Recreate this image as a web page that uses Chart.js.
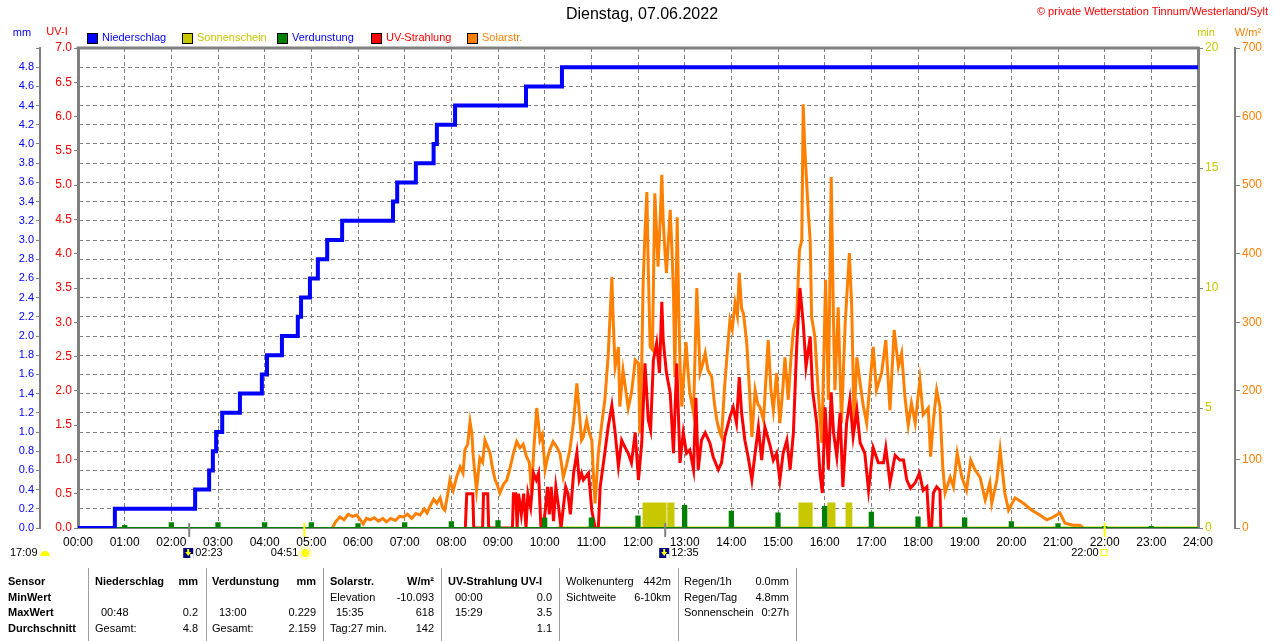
<!DOCTYPE html>
<html>
<head>
<meta charset="utf-8">
<title>Wetterstation Tinnum 07.06.2022</title>
<script src="https://cdn.jsdelivr.net/npm/chart.js@4.4.1/dist/chart.umd.min.js"></script>
<style>
  html, body { margin: 0; padding: 0; background: #fff; }
  #wrap { width: 1280px; height: 641px; position: relative; }
</style>
</head>
<body>
<div id="wrap"><canvas id="chart"></canvas></div>
<script>
// Niederschlag (cumulative mm, value changes at given hour)
const rainT  = [0, 0.79, 2.51, 2.81, 2.89, 2.96, 3.09, 3.47, 3.94, 4.05, 4.37, 4.71, 4.78, 4.97, 5.14, 5.34, 5.66, 6.75, 6.84, 7.24, 7.62, 7.69, 8.08, 9.60, 10.37, 24];
const rainMm = [0, 0.2, 0.4, 0.6, 0.8, 1.0, 1.2, 1.4, 1.6, 1.8, 2.0, 2.2, 2.4, 2.6, 2.8, 3.0, 3.2, 3.4, 3.6, 3.8, 4.0, 4.2, 4.4, 4.6, 4.8, 4.8];

// Sonnenschein (min)
const sunT   = [10.26, 12.13, 12.26, 12.30, 12.58, 12.66, 12.75, 15.47, 15.71, 16.09, 16.20, 16.48, 16.56, 24];
const sunMin = [0, 1, 0, 1, 0, 1, 0, 1, 0, 1, 0, 1, 0, 0];

// Verdunstung (mm per hour)
const evapH  = [1, 2, 3, 4, 5, 6, 7, 8, 9, 10, 11, 12, 13, 14, 15, 16, 17, 18, 19, 20, 21, 22, 23];
const evapMm = [0.02, 0.05, 0.05, 0.05, 0.05, 0.04, 0.05, 0.06, 0.07, 0.10, 0.10, 0.12, 0.229, 0.17, 0.15, 0.22, 0.16, 0.11, 0.10, 0.06, 0.04, 0.01, 0.01];

// UV-Strahlung (UV-I)
const uvT = [8.30, 8.33, 8.46, 8.48, 8.67, 8.69, 8.78, 8.80, 9.31, 9.33, 9.38, 9.41, 9.44, 9.50, 9.55, 9.60, 9.64, 9.70, 9.76, 9.82,
  9.87, 9.92, 9.97, 10.02, 10.06, 10.10, 10.14, 10.19, 10.24, 10.30, 10.35, 10.40, 10.45, 10.50, 10.55, 10.62, 10.69, 10.74, 10.79, 10.83,
  10.94, 11.01, 11.08, 11.15, 11.19, 11.29, 11.36, 11.44, 11.51, 11.58, 11.65, 11.72, 11.79, 11.86, 11.94, 12.01, 12.08, 12.15, 12.22, 12.27,
  12.33, 12.40, 12.46, 12.51, 12.54, 12.61, 12.69, 12.76, 12.83, 12.90, 12.97, 13.04, 13.11, 13.19, 13.24, 13.29, 13.36, 13.44, 13.54, 13.61,
  13.72, 13.79, 13.86, 13.97, 14.04, 14.11, 14.17, 14.22, 14.29, 14.36, 14.44, 14.51, 14.58, 14.65, 14.72, 14.83, 14.90, 14.97, 15.04, 15.11,
  15.19, 15.26, 15.33, 15.40, 15.47, 15.54, 15.60, 15.69, 15.74, 15.83, 15.90, 15.95, 16.01, 16.08, 16.14, 16.19, 16.26, 16.33, 16.39, 16.47,
  16.54, 16.61, 16.69, 16.76, 16.86, 16.94, 17.04, 17.15, 17.26, 17.31, 17.40, 17.51, 17.61, 17.69, 17.76, 17.84, 17.94, 18.03, 18.11, 18.19,
  18.24, 18.29, 18.33, 18.40, 18.47, 18.49];
const uvI = [0, 0.5, 0.5, 0, 0, 0.5, 0.5, 0, 0, 0.5, 0.5, 0, 0.5, 0.2, 0.5, 0, 0.5, 0.3, 0.8, 0.7,
  0.8, 0, 0, 0.3, 0.6, 0.2, 0.6, 0.1, 0.6, 0.3, 0, 0.3, 0.6, 0.5, 0.2, 0.8, 1.1, 0.7, 0.8, 0.7,
  0.8, 0.26, 0, 0, 0.6, 1.1, 1.47, 1.79, 1.39, 0.9, 1.28, 1.18, 1.09, 0.95, 1.39, 0.7, 1.24, 2.4, 1.58, 1.43,
  2.45, 2.7, 2.26, 3.3, 2.74, 2.26, 1.97, 1.09, 2.4, 0.95, 1.39, 1.09, 1.14, 0.85, 1.9, 0.85, 1.28, 1.39, 1.24, 1.04,
  0.85, 0.95, 1.33, 1.62, 1.76, 1.53, 2.2, 1.68, 1.28, 1.04, 0.7, 1.09, 1.47, 0.99, 1.47, 1.2, 0.99, 1.09, 0.7, 1.09,
  1.28, 0.85, 1.39, 2.64, 3.5, 2.99, 2.35, 2.79, 2.01, 1.53, 0.8, 0.51, 1.76, 0.85, 1.98, 1.39, 1.04, 1.68, 0.6, 1.53,
  1.87, 1.33, 1.72, 1.24, 1.09, 0.55, 1.17, 0.95, 0.95, 1.17, 0.66, 1.06, 0.99, 0.99, 0.7, 0.58, 0.66, 0.8, 0.55, 0.6,
  0, 0, 0.51, 0.6, 0.55, 0];

// Solarstrahlung (W/m2)
const solT = [5.45, 5.52, 5.61, 5.70, 5.79, 5.88, 5.97, 6.04, 6.11, 6.18, 6.26, 6.35, 6.44, 6.53, 6.61, 6.70, 6.80, 6.89, 6.97, 7.06,
  7.15, 7.24, 7.33, 7.42, 7.48, 7.54, 7.62, 7.69, 7.76, 7.81, 7.86, 7.92, 7.97, 8.04, 8.12, 8.19, 8.25, 8.29, 8.35, 8.40,
  8.44, 8.47, 8.51, 8.54, 8.58, 8.61, 8.67, 8.72, 8.78, 8.83, 8.88, 8.94, 8.99, 9.04, 9.12, 9.19, 9.26, 9.33, 9.40, 9.47,
  9.54, 9.61, 9.67, 9.72, 9.77, 9.83, 9.87, 9.90, 9.95, 10.01, 10.06, 10.11, 10.18, 10.26, 10.33, 10.40, 10.47, 10.54, 10.62, 10.69,
  10.74, 10.79, 10.83, 10.90, 10.95, 11.01, 11.05, 11.08, 11.15, 11.22, 11.29, 11.36, 11.44, 11.47, 11.51, 11.55, 11.58, 11.61, 11.68, 11.74,
  11.79, 11.86, 11.90, 11.94, 12.01, 12.04, 12.08, 12.11, 12.15, 12.19, 12.22, 12.26, 12.31, 12.36, 12.43, 12.47, 12.51, 12.54, 12.58, 12.61,
  12.69, 12.73, 12.76, 12.79, 12.84, 12.87, 12.90, 12.94, 12.99, 13.03, 13.07, 13.11, 13.19, 13.26, 13.33, 13.39, 13.44, 13.50, 13.58, 13.64,
  13.69, 13.75, 13.79, 13.85, 13.90, 13.97, 14.02, 14.08, 14.13, 14.17, 14.22, 14.26, 14.33, 14.39, 14.44, 14.51, 14.57, 14.61, 14.69, 14.79,
  14.85, 14.90, 14.97, 15.04, 15.10, 15.15, 15.22, 15.28, 15.33, 15.40, 15.46, 15.51, 15.54, 15.57, 15.60, 15.65, 15.69, 15.72, 15.79, 15.86,
  15.94, 16.02, 16.08, 16.14, 16.19, 16.22, 16.29, 16.36, 16.44, 16.53, 16.58, 16.63, 16.69, 16.76, 16.83, 16.90, 16.97, 17.04, 17.11, 17.22,
  17.31, 17.40, 17.49, 17.58, 17.65, 17.72, 17.79, 17.86, 17.94, 18.04, 18.11, 18.22, 18.27, 18.33, 18.40, 18.47, 18.53, 18.58, 18.69, 18.76,
  18.84, 18.94, 19.04, 19.13, 19.22, 19.33, 19.44, 19.54, 19.58, 19.69, 19.76, 19.86, 19.94, 20.08, 20.26, 20.44, 20.61, 20.76, 20.90, 21.04,
  21.15, 21.33, 21.47, 21.54];
const solW = [0, 9, 16, 12, 20, 17, 19, 13, 6, 14, 12, 15, 10, 14, 9, 14, 11, 17, 16, 20,
  14, 21, 19, 28, 22, 31, 42, 36, 44, 30, 26, 48, 70, 55, 76, 89, 80, 114, 122, 155,
  138, 104, 75, 55, 82, 102, 96, 128, 118, 109, 88, 70, 62, 51, 64, 70, 88, 109, 126, 117,
  122, 104, 96, 51, 118, 175, 150, 128, 136, 85, 102, 114, 126, 118, 108, 74, 92, 114, 155, 211,
  170, 128, 133, 157, 140, 128, 70, 36, 109, 150, 187, 250, 366, 300, 235, 250, 264, 177, 230, 200,
  175, 197, 220, 245, 240, 138, 240, 357, 430, 490, 380, 264, 260, 488, 381, 440, 515, 449, 400, 372,
  464, 400, 343, 220, 453, 330, 240, 177, 230, 271, 230, 197, 168, 350, 226, 240, 255, 230, 220, 180,
  157, 140, 133, 200, 245, 303, 290, 328, 310, 372, 320, 313, 270, 200, 133, 201, 180, 177, 157, 274,
  200, 172, 226, 153, 200, 249, 187, 250, 289, 308, 405, 420, 618, 560, 522, 459, 420, 308, 279, 201,
  124, 362, 187, 512, 299, 201, 322, 153, 299, 401, 322, 153, 249, 211, 177, 153, 211, 264, 201, 226,
  274, 172, 289, 235, 255, 191, 150, 182, 153, 216, 165, 175, 104, 157, 201, 177, 90, 51, 74, 60,
  109, 74, 55, 99, 85, 74, 41, 66, 36, 70, 114, 51, 26, 44, 36, 26, 19, 12, 16, 22,
  7, 4, 4, 0];

// Sonnenauf-/untergang, Mond
const eventT     = [2.383, 4.85, 12.583, 22.0];
const eventLabel = ['02:23', '04:51', '12:35', '22:00'];
const eventKind  = ['moon', 'sun', 'moon', 'sun'];

const C_BLUE = '#0000ff', C_YEL = '#c8c800', C_GREEN = '#008000', C_RED = '#ff0000', C_ORA = '#ff8000', C_GRID = '#808080';
const FONT = "'Liberation Sans', Arial, sans-serif";

const pts = (xs, ys) => xs.map((x, i) => ({ x: x, y: ys[i] }));

// evaporation as narrow blocks on a baseline
const evapPts = [{ x: 0, y: 0 }];
evapH.forEach((h, i) => {
  evapPts.push({ x: h - 0.035, y: 0 }, { x: h - 0.035, y: evapMm[i] }, { x: h + 0.035, y: evapMm[i] }, { x: h + 0.035, y: 0 });
});
evapPts.push({ x: 24, y: 0 });

function pad2(n) { return (n < 10 ? '0' : '') + n; }

const legendItems = [
  { text: 'Niederschlag', box: C_BLUE,  color: C_BLUE, x: 87 },
  { text: 'Sonnenschein', box: C_YEL,   color: C_YEL,  x: 182 },
  { text: 'Verdunstung',  box: C_GREEN, color: C_BLUE, x: 277 },
  { text: 'UV-Strahlung', box: C_RED,   color: C_RED,  x: 371 },
  { text: 'Solarstr.',    box: C_ORA,   color: C_ORA,  x: 467 }
];

// summary table below the chart
const tableRows = [582, 598, 613, 629];
const tableSep = [88, 206, 323, 441, 559, 678, 796];
const tableCells = [
  ['Sensor', 8, 0, 'left', true], ['MinWert', 8, 1, 'left', true], ['MaxWert', 8, 2, 'left', true], ['Durchschnitt', 8, 3, 'left', true],
  ['Niederschlag', 95, 0, 'left', true], ['mm', 198, 0, 'right', true],
  ['00:48', 101, 2, 'left', false], ['0.2', 198, 2, 'right', false],
  ['Gesamt:', 95, 3, 'left', false], ['4.8', 198, 3, 'right', false],
  ['Verdunstung', 212, 0, 'left', true], ['mm', 316, 0, 'right', true],
  ['13:00', 219, 2, 'left', false], ['0.229', 316, 2, 'right', false],
  ['Gesamt:', 212, 3, 'left', false], ['2.159', 316, 3, 'right', false],
  ['Solarstr.', 330, 0, 'left', true], ['W/m\u00b2', 434, 0, 'right', true],
  ['Elevation', 330, 1, 'left', false], ['-10.093', 434, 1, 'right', false],
  ['15:35', 336, 2, 'left', false], ['618', 434, 2, 'right', false],
  ['Tag:27 min.', 330, 3, 'left', false], ['142', 434, 3, 'right', false],
  ['UV-Strahlung UV-I', 448, 0, 'left', true],
  ['00:00', 455, 1, 'left', false], ['0.0', 552, 1, 'right', false],
  ['15:29', 455, 2, 'left', false], ['3.5', 552, 2, 'right', false],
  ['1.1', 552, 3, 'right', false],
  ['Wolkenunterg', 566, 0, 'left', false], ['442m', 671, 0, 'right', false],
  ['Sichtweite', 566, 1, 'left', false], ['6-10km', 671, 1, 'right', false],
  ['Regen/1h', 684, 0, 'left', false], ['0.0mm', 789, 0, 'right', false],
  ['Regen/Tag', 684, 1, 'left', false], ['4.8mm', 789, 1, 'right', false],
  ['Sonnenschein', 684, 2, 'left', false], ['0:27h', 789, 2, 'right', false]
];

function txt(ctx, s, x, y, color, align, bold, size) {
  ctx.save();
  ctx.font = (bold ? 'bold ' : '') + (size || 11) + 'px ' + FONT;
  ctx.fillStyle = color;
  ctx.textAlign = align || 'left';
  ctx.textBaseline = 'middle';
  ctx.fillText(s, x, y);
  ctx.restore();
}

const decorPlugin = {
  id: 'decor',
  beforeDatasetsDraw(chart) {
    const ctx = chart.ctx, a = chart.chartArea;
    ctx.save();
    ctx.strokeStyle = C_GRID;
    ctx.lineWidth = 3;
    ctx.beginPath();
    ctx.moveTo(a.left - 1.5, a.top);
    ctx.lineTo(a.right + 1.5, a.top);
    ctx.stroke();
    ctx.restore();
  },
  afterDraw(chart) {
    const ctx = chart.ctx, xs = chart.scales.x;

    txt(ctx, 'Dienstag, 07.06.2022', 642, 15, '#000', 'center', false, 16);
    txt(ctx, '\u00a9 private Wetterstation Tinnum/Westerland/Sylt', 1268, 12, C_RED, 'right', false, 11);

    txt(ctx, 'mm', 22, 33, C_BLUE, 'center');
    txt(ctx, 'UV-I', 57, 32, C_RED, 'center');
    txt(ctx, 'min', 1206, 33, C_YEL, 'center');
    txt(ctx, 'W/m\u00b2', 1248, 33, C_ORA, 'center');

    legendItems.forEach(it => {
      ctx.save();
      ctx.fillStyle = it.box;
      ctx.fillRect(it.x, 33, 10, 10);
      ctx.strokeStyle = '#000';
      ctx.lineWidth = 1;
      ctx.strokeRect(it.x + 0.5, 33.5, 10, 10);
      ctx.restore();
      txt(ctx, it.text, it.x + 15, 38, it.color, 'left', false, 11);
    });

    // event markers (moon / sun)
    eventT.forEach((t, i) => {
      const px = xs.getPixelForValue(t);
      const sun = eventKind[i] === 'sun';
      ctx.save();
      ctx.fillStyle = sun ? '#ffff00' : C_GRID;
      ctx.fillRect(px - 1, 523, 2, 14);
      ctx.restore();
      if (sun) {
        txt(ctx, eventLabel[i], px - 6, 553, '#000', 'right');
        ctx.save();
        if (i === 1) {
          ctx.fillStyle = '#ffff00';
          ctx.beginPath(); ctx.arc(px + 1, 553, 4, 0, Math.PI * 2); ctx.fill();
          ctx.strokeStyle = '#ffff80'; ctx.lineWidth = 1;
          ctx.beginPath(); ctx.arc(px + 1, 553, 6, 0, Math.PI * 2); ctx.stroke();
        } else {
          ctx.strokeStyle = '#ffff00'; ctx.lineWidth = 1;
          ctx.strokeRect(px - 3.5, 549.5, 6, 6);
        }
        ctx.restore();
      } else {
        ctx.save();
        ctx.fillStyle = '#000080';
        ctx.fillRect(px - 6, 548, 10, 10);
        ctx.fillStyle = '#ffff00';
        ctx.beginPath(); ctx.moveTo(px - 1, 556); ctx.lineTo(px - 4, 552); ctx.lineTo(px + 2, 552); ctx.closePath(); ctx.fill();
        ctx.fillRect(px - 2, 549, 2, 4);
        ctx.fillStyle = '#ffffff';
        ctx.fillRect(px + 1, 554, 3, 4);
        ctx.restore();
        txt(ctx, eventLabel[i], px + 6, 553, '#000', 'left');
      }
    });
    txt(ctx, '17:09', 10, 553, '#000', 'left');
    ctx.save();
    ctx.fillStyle = '#ffff00';
    ctx.beginPath(); ctx.arc(45, 556, 5, Math.PI, 0); ctx.closePath(); ctx.fill();
    ctx.restore();

    // table
    ctx.save();
    ctx.strokeStyle = '#a0a0a0';
    ctx.lineWidth = 1;
    tableSep.forEach(x => { ctx.beginPath(); ctx.moveTo(x + 0.5, 568); ctx.lineTo(x + 0.5, 641); ctx.stroke(); });
    ctx.restore();
    tableCells.forEach(c => txt(ctx, c[0], c[1], tableRows[c[2]], '#000', c[3], c[4], 11));
  }
};

Chart.defaults.font.family = FONT;
Chart.defaults.font.size = 11;

new Chart(document.getElementById('chart'), {
  type: 'line',
  data: {
    datasets: [
      { label: 'Niederschlag', data: pts(rainT, rainMm), yAxisID: 'mm', borderColor: C_BLUE, borderWidth: 4,
        stepped: 'before', pointRadius: 0, fill: false, order: 0 },
      { label: 'Verdunstung', data: evapPts, yAxisID: 'mm', borderColor: C_GREEN, backgroundColor: C_GREEN, borderWidth: 2,
        pointRadius: 0, fill: 'origin', order: 1 },
      { label: 'UV-Strahlung', data: pts(uvT, uvI), yAxisID: 'uv', borderColor: C_RED, borderWidth: 3,
        pointRadius: 0, fill: false, order: 2 },
      { label: 'Solarstr.', data: pts(solT, solW), yAxisID: 'w', borderColor: C_ORA, borderWidth: 3,
        pointRadius: 0, fill: false, order: 3 },
      { label: 'Sonnenschein', data: pts(sunT, sunMin), yAxisID: 'min', borderColor: C_YEL, backgroundColor: C_YEL, borderWidth: 3,
        stepped: 'before', pointRadius: 0, fill: 'origin', order: 4 }
    ]
  },
  options: {
    responsive: true,
    maintainAspectRatio: false,
    animation: false,
    events: [],
    layout: { padding: { left: 0, right: 0, top: 48, bottom: 91 } },
    plugins: { legend: { display: false }, title: { display: false }, tooltip: { enabled: false } },
    elements: { line: { tension: 0, borderJoinStyle: 'miter', borderCapStyle: 'butt' } },
    scales: {
      x: {
        type: 'linear', position: 'bottom', min: 0, max: 24,
        ticks: { stepSize: 1, autoSkip: false, maxRotation: 0, color: '#000', padding: 7,
                 font: { size: 12 }, callback: v => pad2(v) + ':00' },
        grid: { color: C_GRID, lineWidth: 1, drawTicks: false },
        border: { display: true, color: C_GRID, width: 2, dash: [4, 3] },
        afterFit: s => { s.height = 22; }
      },
      mm: {
        type: 'linear', position: 'left', weight: 1, min: 0, max: 5,
        ticks: { stepSize: 0.2, autoSkip: false, color: C_BLUE, padding: 2,
                 callback: v => (v > 4.9 ? '' : v.toFixed(1)) },
        grid: { color: C_GRID, lineWidth: 1, drawOnChartArea: true, drawTicks: true, tickLength: 4,
                tickColor: C_GRID, tickBorderDash: [] },
        border: { display: true, color: C_GRID, width: 2, dash: [4, 3] },
        afterFit: s => { s.width = 40; }
      },
      uv: {
        type: 'linear', position: 'left', weight: 0, min: 0, max: 7,
        ticks: { stepSize: 0.5, autoSkip: false, color: C_RED, padding: 2, font: { size: 12 },
                 callback: v => v.toFixed(1) },
        grid: { drawOnChartArea: false, drawTicks: true, tickLength: 4, tickColor: C_GRID, color: C_GRID },
        border: { display: true, color: C_GRID, width: 3 },
        afterFit: s => { s.width = 38; }
      },
      min: {
        type: 'linear', position: 'right', weight: 0, min: 0, max: 20,
        ticks: { stepSize: 5, color: C_YEL, padding: 2, font: { size: 12 } },
        grid: { drawOnChartArea: false, drawTicks: true, tickLength: 5, tickColor: C_GRID, color: C_GRID },
        border: { display: true, color: C_GRID, width: 3 },
        afterFit: s => { s.width = 37; }
      },
      w: {
        type: 'linear', position: 'right', weight: 1, min: 0, max: 700,
        ticks: { stepSize: 100, color: C_ORA, padding: 2, font: { size: 12 } },
        grid: { drawOnChartArea: false, drawTicks: true, tickLength: 5, tickColor: C_GRID, color: C_GRID },
        border: { display: true, color: C_GRID, width: 2 },
        afterFit: s => { s.width = 45; }
      }
    }
  },
  plugins: [decorPlugin]
});
</script>
</body>
</html>
